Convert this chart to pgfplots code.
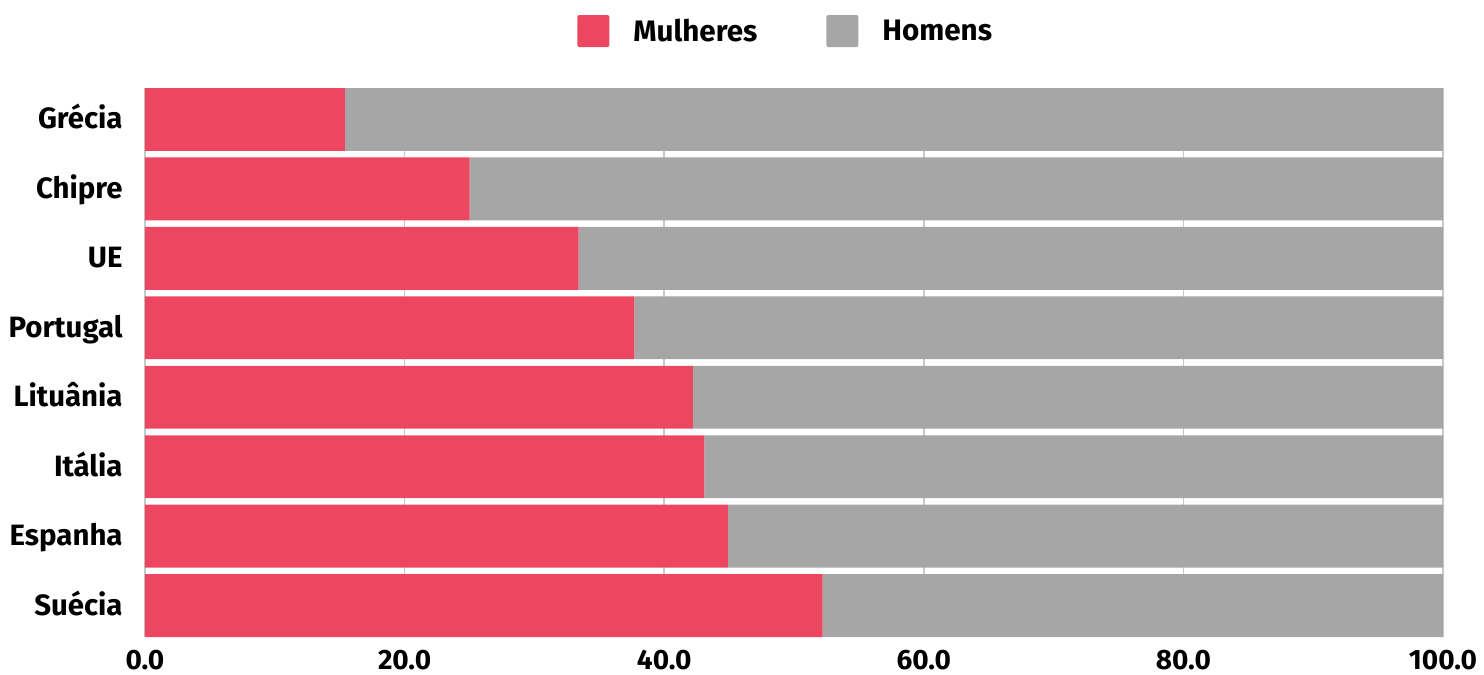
\documentclass[border=0pt]{standalone}
\usepackage{fontspec}
\setmainfont{Fira Sans}
\usepackage{pgfplots}
\pgfplotsset{compat=1.18}
\definecolor{mred}{HTML}{EC4660}
\definecolor{mgray}{HTML}{A6A6A6}
\definecolor{grd}{HTML}{C8C8C8}
\begin{document}
\begin{tikzpicture}
\begin{axis}[name=ax, scale only axis, width=649pt, height=274.5pt,
  xbar stacked, bar width=0.905,
  xmin=0, xmax=100, ymin=-0.4525, ymax=7.4525, y dir=reverse,
  ytick={0,...,7},
  yticklabels={Grécia,Chipre,UE,Portugal,Lituânia,Itália,Espanha,Suécia},
  xtick={0,20,40,60,80,100},
  axis line style={draw=none}, major tick length=0pt,
  xmajorgrids, major grid style={grd, line width=0.75pt},
  /pgf/number format/assume math mode=true,
  xticklabel style={font=\fontsize{14}{17}\selectfont\bfseries, inner sep=0pt, text depth=0pt, yshift=-6.3pt,
    /pgf/number format/.cd, fixed, fixed zerofill, precision=1},
  yticklabel style={font=\fontsize{14.7}{18}\selectfont\bfseries, inner sep=0pt, anchor=base east, xshift=-11pt, yshift=-4.75pt},
  legend style={draw=none, fill=none, legend columns=2, at={(0.3328,1.1038)}, anchor=west,
    inner sep=0pt, font=\fontsize{14.8}{17}\selectfont\bfseries, nodes={inner sep=0pt},
    /tikz/every odd column/.append style={column sep=12pt},
    /tikz/every even column/.append style={column sep=34.5pt}},
  legend image code/.code={\fill[#1, rounded corners=1pt] (0pt,-7.5pt) rectangle (16pt,8.5pt);},
]
\addplot[fill=mred, draw=none] coordinates {(15.4,0) (25.0,1) (33.4,2) (37.7,3) (42.2,4) (43.1,5) (44.9,6) (52.2,7)};
\addplot[fill=mgray, draw=none] coordinates {(84.6,0) (75.0,1) (66.6,2) (62.3,3) (57.8,4) (56.9,5) (55.1,6) (47.8,7)};
\legend{Mulheres, Homens}
\end{axis}
\pgfresetboundingbox
\path ([shift={(-72.5pt,-19pt)}]ax.south west) rectangle ([shift={(20.5pt,44pt)}]ax.north east);
\end{tikzpicture}
\end{document}
